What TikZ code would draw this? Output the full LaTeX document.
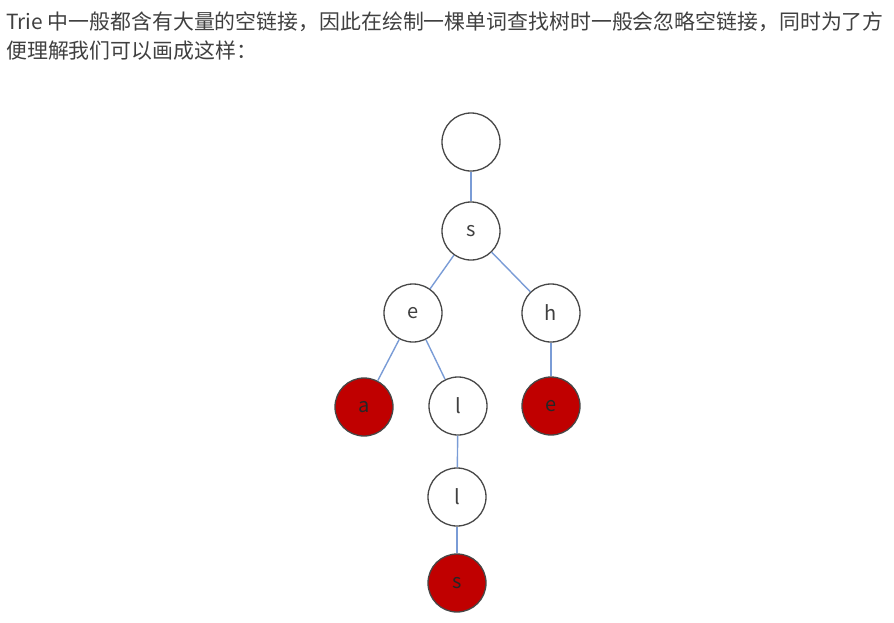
\documentclass[tikz,border=0pt]{standalone}
\usepackage{fontspec}
\setmainfont{Noto Sans CJK SC}
\definecolor{wordred}{RGB}{192,0,0}
\definecolor{linkblue}{RGB}{122,156,214}
\definecolor{textgray}{RGB}{64,64,64}

\begin{document}
\begin{tikzpicture}[x=1pt,y=-1pt,
  trienode/.style={circle, draw=black!72, line width=1.3pt, minimum size=58pt,
    inner sep=0pt, fill=white, text=black!75, font=\fontsize{20}{20}\selectfont},
  wordnode/.style={trienode, fill=wordred, text=black!85},
  link/.style={draw=linkblue, line width=1.4pt}]

\useasboundingbox (0,0) rectangle (894,622);

% text above the tree
\node[anchor=base west, inner sep=0pt, text=textgray, font=\fontsize{20.9}{20.9}\selectfont] (line1) at (6,29)
  {Trie 中一般都含有大量的空链接，因此在绘制一棵单词查找树时一般会忽略空链接，同时为了方};
\node[anchor=base west, inner sep=0pt, text=textgray, font=\fontsize{20.9}{20.9}\selectfont] (line2) at (6,58)
  {便理解我们可以画成这样：};

% the tree
\node[trienode] (root) at (471,142) {};
\node[trienode] (s) at (471,231) {s};
\node[trienode] (e) at (413,313) {e};
\node[trienode] (h) at (551,313) {h};
\node[wordnode] (a) at (364,407) {a};
\node[trienode] (l1) at (458,406) {l};
\node[wordnode] (he) at (551,406) {e};
\node[trienode] (l2) at (457,497) {l};
\node[wordnode] (sells) at (457,583) {s};

\foreach \from/\to in {root/s, s/e, s/h, e/a, e/l1, h/he, l1/l2, l2/sells}
  \draw[link] (\from) -- (\to);

\end{tikzpicture}
\end{document}
